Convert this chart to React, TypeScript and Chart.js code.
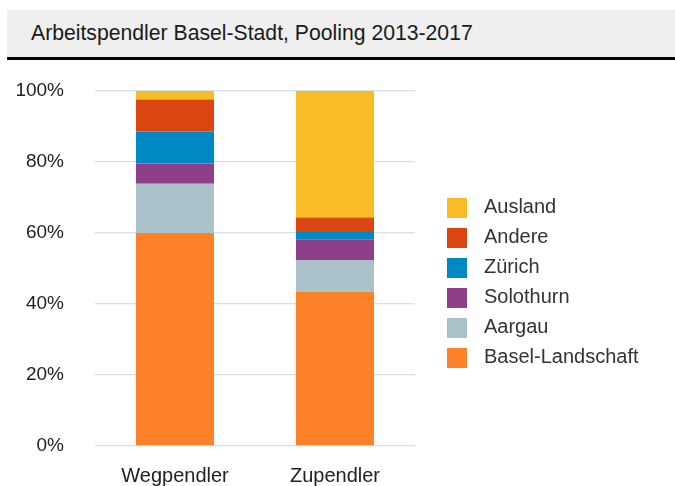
import React, { useEffect, useRef } from "react";
import { Chart, registerables } from "chart.js";

Chart.register(...registerables);

const categories = ["Wegpendler", "Zupendler"];
const seriesNames = ["Basel-Landschaft", "Aargau", "Solothurn", "Zürich", "Andere", "Ausland"];
const baselLandschaft = [60.0, 43.5];
const aargau = [13.9, 8.9];
const solothurn = [5.7, 5.7];
const zuerich = [9.0, 2.2];
const andere = [9.0, 4.1];
const ausland = [2.4, 35.6];
const seriesColors = ["#fd8128", "#a9c1c8", "#8f3f8a", "#0088c2", "#da4510", "#f9bc26"];
const yTicks = [0, 20, 40, 60, 80, 100];
const title = "Arbeitspendler Basel-Stadt, Pooling 2013-2017";

const FONT = "'Liberation Sans', Arial, Helvetica, sans-serif";

function makeSwatch(color: string): HTMLCanvasElement {
  const c = document.createElement("canvas");
  c.width = 49;
  c.height = 20;
  const ctx = c.getContext("2d");
  if (ctx) {
    ctx.fillStyle = color;
    ctx.fillRect(22, 0, 20, 20);
  }
  return c;
}

export default function App() {
  const canvasRef = useRef<HTMLCanvasElement | null>(null);

  useEffect(() => {
    if (!canvasRef.current) return;
    const values = [baselLandschaft, aargau, solothurn, zuerich, andere, ausland];
    const chart = new Chart(canvasRef.current, {
      type: "bar",
      data: {
        labels: categories,
        datasets: seriesNames.map((name, i) => ({
          label: name,
          data: values[i],
          backgroundColor: seriesColors[i],
          borderWidth: 0,
          categoryPercentage: 0.8,
          barPercentage: 0.61,
        })),
      },
      options: {
        animation: false,
        responsive: false,
        maintainAspectRatio: false,
        layout: { padding: { top: 79, bottom: 0, left: 0, right: 26.5 } },
        scales: {
          x: {
            stacked: true,
            grid: { display: false, drawTicks: false },
            border: { display: false },
            ticks: {
              padding: 22.4,
              color: "#222",
              font: { family: FONT, size: 20, lineHeight: "16px" },
            },
            afterFit: (s: any) => {
              s.height = 40;
            },
          },
          y: {
            stacked: true,
            min: 0,
            max: 100,
            afterBuildTicks: (s: any) => {
              s.ticks = yTicks.map((v) => ({ value: v }));
            },
            grid: {
              color: "#d3e2ea",
              lineWidth: 1.3,
              drawTicks: true,
              tickLength: 31,
              tickColor: "rgba(0,0,0,0)",
            },
            border: { display: false },
            ticks: {
              padding: 0,
              color: "#222",
              font: { family: FONT, size: 19 },
              callback: (v: any) => v + "%",
            },
            afterFit: (s: any) => {
              s.width = 95;
            },
          },
        },
        plugins: {
          title: { display: true, text: "", padding: 0, font: { size: 10, lineHeight: 1.2 } },
          tooltip: { enabled: false },
          legend: {
            position: "right",
            reverse: true,
            maxWidth: 400,
            labels: {
              usePointStyle: true,
              pointStyleWidth: 49,
              boxHeight: 20,
              padding: 10,
              color: "#333",
              font: { family: FONT, size: 20 },
              generateLabels: (c: any) => {
                const items = (Chart.defaults.plugins.legend.labels as any).generateLabels(c);
                return items.map((it: any) => ({ ...it, pointStyle: makeSwatch(it.fillStyle) }));
              },
            },
          },
        },
      },
    });
    return () => chart.destroy();
  }, []);

  return (
    <div style={{ position: "fixed", left: 0, top: 0, width: 675, height: 486, background: "#fff" }}>
      <div
        style={{
          position: "absolute",
          left: 7,
          top: 10,
          width: 668,
          height: 47,
          background: "#efefef",
          borderBottom: "3px solid #000",
          boxSizing: "content-box",
          fontFamily: FONT,
          fontSize: 21.2,
          color: "#1a1a1a",
          lineHeight: "47px",
        }}
      >
        <span style={{ position: "absolute", left: 24, top: -1 }}>{title}</span>
      </div>
      <canvas
        ref={canvasRef}
        width={675}
        height={486}
        style={{ position: "absolute", left: 0, top: 0, width: 675, height: 486 }}
      />
    </div>
  );
}
